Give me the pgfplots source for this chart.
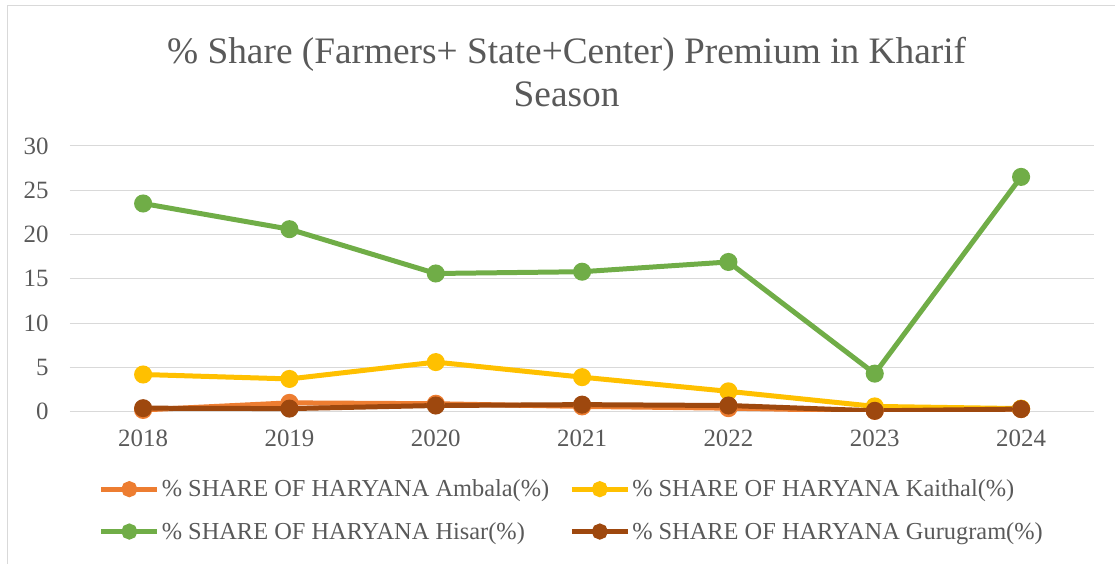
\documentclass[border=0pt]{standalone}
\usepackage{fontspec}
\setmainfont{Liberation Serif}
\usepackage{pgfplots}
\pgfplotsset{compat=1.18}
\definecolor{amb}{HTML}{ED7D31}
\definecolor{kai}{HTML}{FFC000}
\definecolor{his}{HTML}{70AD47}
\definecolor{gur}{HTML}{9E480E}
\definecolor{gridc}{HTML}{D9D9D9}
\definecolor{txt}{HTML}{595959}
\begin{document}
\begin{tikzpicture}[x=1bp,y=1bp]
\path (0,0) rectangle (1116,564);
\draw[gridc, line width=1.5bp] (7.5,0) -- (7.5,558.5) -- (1116,558.5);
\node[font=\fontsize{37.5}{43}\selectfont, align=center, text=txt] at (567,492) {\% Share (Farmers+ State+Center) Premium in Kharif\\Season};
\begin{axis}[at={(70bp,152bp)}, anchor=south west, scale only axis,
  width=1025bp, height=266bp,
  xmin=-0.5, xmax=6.5, ymin=0, ymax=30,
  ytick={0,5,...,30}, xtick={0,...,6},
  xticklabels={2018,2019,2020,2021,2022,2023,2024},
  ymajorgrids, grid style={draw=gridc, line width=1bp},
  axis line style={draw=none}, major tick length=0pt,
  tick label style={font=\fontsize{25}{25}\selectfont, text=txt},
  /pgf/number format/assume math mode=true,
  yticklabel style={xshift=-18bp},
  xticklabel style={yshift=-15bp},
  every axis plot/.append style={line width=5bp, mark=*, mark size=6.5bp, mark options={solid}},
  legend columns=2, legend cell align=left,
  legend style={at={(0.49,-0.241)}, anchor=north, draw=none, fill=none,
    font=\fontsize{24.5}{25}\selectfont, text=txt, row sep=20bp,
    /tikz/every even column/.append style={column sep=18bp}},
  legend image code/.code={\draw[mark repeat=2,mark phase=2,#1,mark size=5.5bp] plot coordinates {(0bp,0bp) (28bp,0bp) (56bp,0bp)};},
]
\addplot[color=amb] coordinates {(0,0.2) (1,1.0) (2,0.9) (3,0.6) (4,0.4) (5,0.1) (6,0.3)};
\addlegendentry{\% SHARE OF HARYANA Ambala(\%)}
\addplot[color=kai] coordinates {(0,4.2) (1,3.7) (2,5.6) (3,3.9) (4,2.3) (5,0.6) (6,0.35)};
\addlegendentry{\% SHARE OF HARYANA Kaithal(\%)}
\addplot[color=his] coordinates {(0,23.5) (1,20.6) (2,15.6) (3,15.8) (4,16.9) (5,4.3) (6,26.5)};
\addlegendentry{\% SHARE OF HARYANA Hisar(\%)}
\addplot[color=gur] coordinates {(0,0.4) (1,0.35) (2,0.7) (3,0.8) (4,0.7) (5,0.1) (6,0.3)};
\addlegendentry{\% SHARE OF HARYANA Gurugram(\%)}
\end{axis}
\end{tikzpicture}
\end{document}
